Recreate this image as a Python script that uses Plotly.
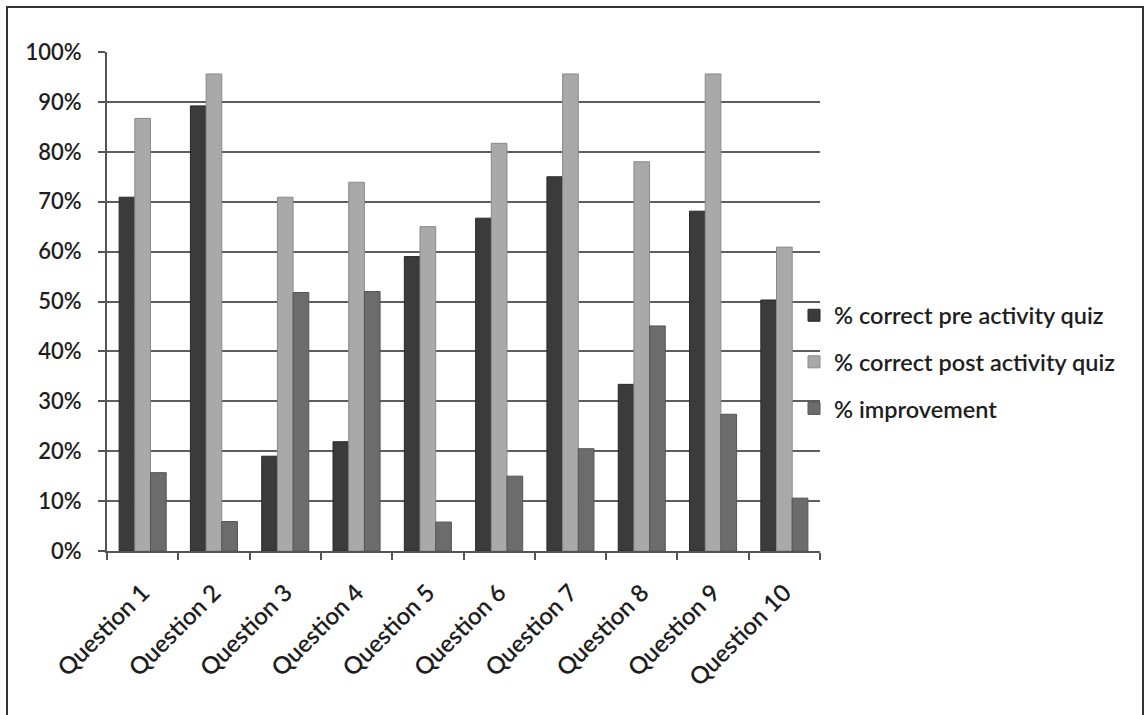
import plotly.graph_objects as go

# Quiz results per question
questions = ["Question 1", "Question 2", "Question 3", "Question 4", "Question 5",
             "Question 6", "Question 7", "Question 8", "Question 9", "Question 10"]
pre_quiz = [70.9, 89.2, 19.0, 21.9, 59.0, 66.7, 75.0, 33.4, 68.1, 50.3]
post_quiz = [86.7, 95.6, 70.9, 73.9, 65.0, 81.7, 95.6, 78.0, 95.6, 60.9]
improvement = [15.7, 5.9, 51.8, 52.0, 5.8, 15.0, 20.5, 45.1, 27.4, 10.6]

y_ticks = list(range(0, 101, 10))
y_tick_labels = [f"{v}%" for v in y_ticks]

W, H = 1144, 715
ML, MR, MT, MB = 107, 324, 52, 164
FONT = "Lato, 'Open Sans', sans-serif"
TXT = "#1e1e1e"

fig = go.Figure()
series = [
    ("% correct pre activity quiz", pre_quiz, "#3b3b3b", "#2a2a2a"),
    ("% correct post activity quiz", post_quiz, "#a9a9a9", "#8a8a8a"),
    ("% improvement", improvement, "#6c6c6c", "#555555"),
]
for i, (name, vals, color, edge) in enumerate(series):
    fig.add_trace(go.Bar(
        x=questions, y=vals, name=name, legendgroup=f"g{i}",
        marker=dict(color=color, line=dict(color=edge, width=1)),
    ))

pw = W - ML - MR
ph = H - MT - MB

fig.update_layout(
    width=W, height=H,
    margin=dict(l=ML, r=MR, t=MT, b=MB),
    paper_bgcolor="white", plot_bgcolor="white",
    barmode="group", bargap=0.34, bargroupgap=0,
    font=dict(family=FONT, size=22, color=TXT, weight=600),
    legend=dict(
        x=(794 - ML) / pw, xanchor="left",
        y=(551 - 362) / ph, yanchor="middle",
        traceorder="grouped", tracegroupgap=13,
        font=dict(family=FONT, size=23.5, color=TXT, weight=600),
        bgcolor="rgba(0,0,0,0)", itemwidth=30,
    ),
    xaxis=dict(
        tickangle=-45, tickson="boundaries", ticks="outside", ticklen=7,
        tickcolor="#555555", tickwidth=2, ticklabelstandoff=16,
        showline=True, linecolor="#555555", linewidth=2,
        showgrid=False, tickfont=dict(family=FONT, size=24, color=TXT, weight=600),
    ),
    yaxis=dict(
        range=[0, 100], tickvals=y_ticks, ticktext=y_tick_labels,
        ticks="outside", ticklen=7, tickcolor="#555555", tickwidth=2,
        ticklabelstandoff=12,
        showline=True, linecolor="#555555", linewidth=2,
        showgrid=True, gridcolor="#5e5e5e", gridwidth=2,
        zeroline=False, tickfont=dict(family=FONT, size=22, color=TXT, weight=600),
    ),
)

# Outer frame around the whole chart (bottom edge runs past the page)
fig.add_shape(
    type="rect", xref="paper", yref="paper",
    x0=(7 - ML) / pw, x1=(1143 - ML) / pw,
    y0=(H - MB - 730) / ph, y1=(H - MB - 7) / ph,
    line=dict(color="#333333", width=2), fillcolor="rgba(0,0,0,0)", layer="below",
)

fig.write_html("out.html")
